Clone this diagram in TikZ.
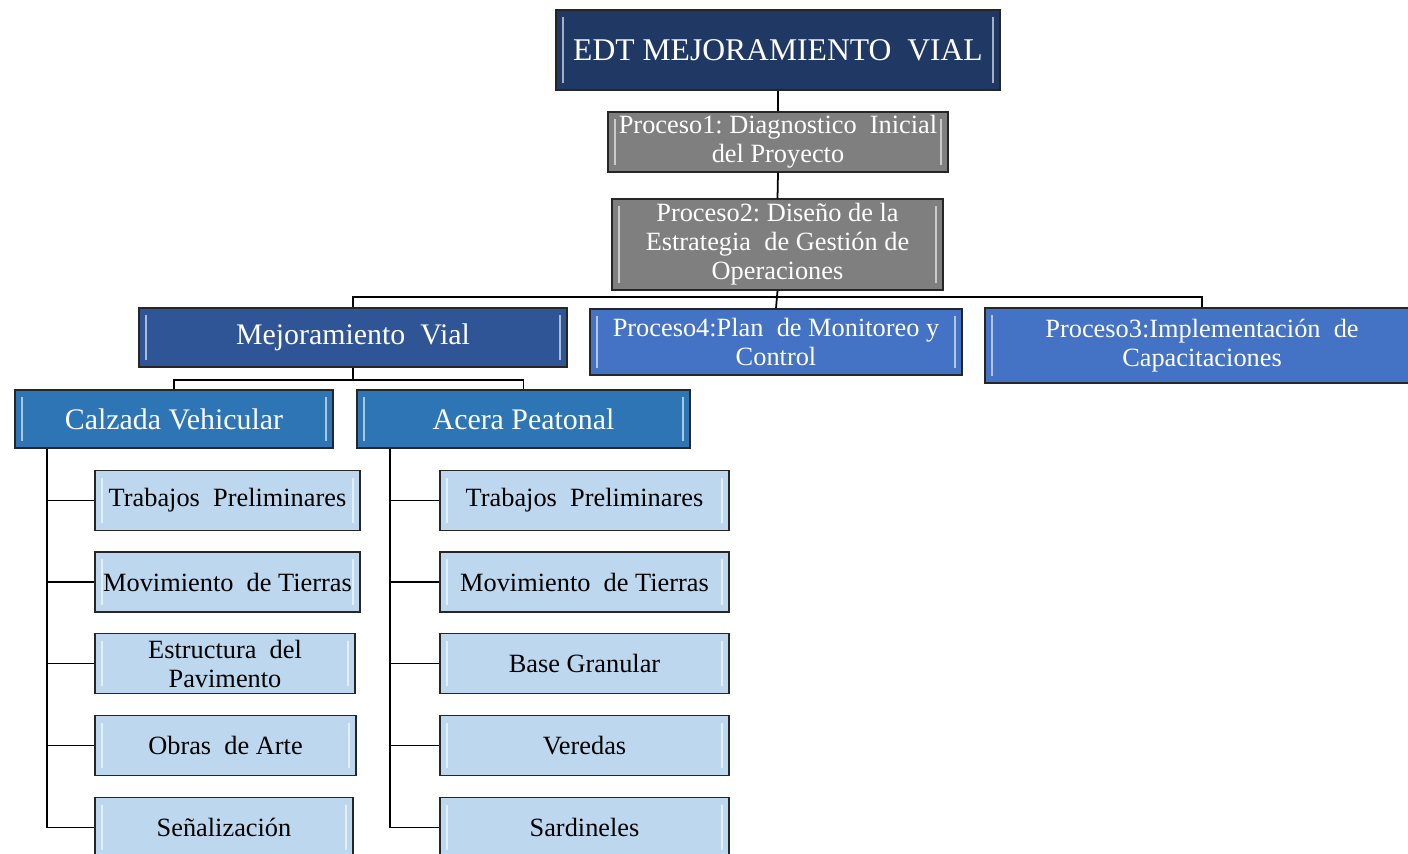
\documentclass[tikz,border=0pt]{standalone}
\usepackage{fontspec}
\setmainfont{Liberation Serif}
\usetikzlibrary{positioning}
\definecolor{NavyTop}{HTML}{1F3864}
\definecolor{GrayProc}{HTML}{7F7F7F}
\definecolor{MidBlue}{HTML}{2F5597}
\definecolor{ProcBlue}{HTML}{4472C4}
\definecolor{SubBlue}{HTML}{2E75B6}
\definecolor{LeafBlue}{HTML}{BDD7EE}
\tikzset{
  bevel/.style={path picture={
    \draw[white,opacity=0.6,line width=1.3pt]
      ([shift={(4pt,4pt)}]path picture bounding box.south west) -- ([shift={(4pt,-4pt)}]path picture bounding box.north west)
      ([shift={(-4pt,4pt)}]path picture bounding box.south east) -- ([shift={(-4pt,-4pt)}]path picture bounding box.north east);}},
  basebox/.style={draw=black!85,line width=0.8pt,align=center,inner sep=1pt,bevel},
  topnode/.style={basebox,fill=NavyTop,text=white,font=\fontsize{18}{20}\selectfont},
  procnode/.style={basebox,fill=GrayProc,text=white,font=\fontsize{15}{16.5}\selectfont},
  mainnode/.style={basebox,fill=MidBlue,text=white,font=\fontsize{17}{19}\selectfont},
  pblnode/.style={basebox,fill=ProcBlue,text=white,font=\fontsize{15}{16.5}\selectfont},
  subnode/.style={basebox,fill=SubBlue,text=white,font=\fontsize{17}{19}\selectfont},
  leafnode/.style={basebox,fill=LeafBlue,text=black,font=\fontsize{15}{16.5}\selectfont},
  link/.style={line width=1pt,draw=black},
}

\begin{document}
\begin{tikzpicture}[x=0.02cm,y=-0.02cm]
  \clip (0,0) rectangle (1408,854);
  % upper levels
  \node[topnode,minimum width=8.88cm,minimum height=1.6cm] (edt) at (778,50) {EDT MEJORAMIENTO\ \ VIAL};
  \node[procnode,minimum width=6.8cm,minimum height=1.2cm] (p1) at (778,142) {Proceso1:\ Diagnostico\ \ Inicial\\del Proyecto};
  \node[procnode,minimum width=6.62cm,minimum height=1.82cm] (p2) at (777.5,244.5) {Proceso2:\ Diseño de la\\Estrategia\ \ de Gestión de\\Operaciones};
  \node[mainnode,minimum width=8.56cm,minimum height=1.18cm] (mv) at (353,337.5) {Mejoramiento\ \ Vial};
  \node[pblnode,minimum width=7.44cm,minimum height=1.32cm] (p4) at (776,342) {Proceso4:Plan\ \ de Monitoreo\ y\\Control};
  \node[pblnode,minimum width=8.68cm,minimum height=1.5cm] (p3) at (1202,345.5) {Proceso3:Implementación\ \ de\\Capacitaciones};
  \node[subnode,minimum width=6.36cm,minimum height=1.16cm] (calz) at (174,419) {Calzada Vehicular};
  \node[subnode,minimum width=6.66cm,minimum height=1.16cm] (acera) at (523.5,419) {Acera Peatonal};
  % leaves
  \node[leafnode,minimum width=5.3cm,minimum height=1.19cm] (l1) at (227.5,500.5) {Trabajos\ \ Preliminares};
  \node[leafnode,minimum width=5.3cm,minimum height=1.2cm] (l2) at (227.5,582) {Movimiento\ \ de Tierras};
  \node[leafnode,minimum width=5.2cm,minimum height=1.19cm] (l3) at (225,663.5) {Estructura\ \ del\\Pavimento};
  \node[leafnode,minimum width=5.22cm,minimum height=1.19cm] (l4) at (225.5,745.5) {Obras\ \ de Arte};
  \node[leafnode,minimum width=5.16cm,minimum height=1.19cm] (l5) at (224,827.5) {Señalización};
  \node[leafnode,minimum width=5.78cm,minimum height=1.19cm] (r1) at (584.5,500.5) {Trabajos\ \ Preliminares};
  \node[leafnode,minimum width=5.78cm,minimum height=1.2cm] (r2) at (584.5,582) {Movimiento\ \ de Tierras};
  \node[leafnode,minimum width=5.78cm,minimum height=1.19cm] (r3) at (584.5,663.5) {Base Granular};
  \node[leafnode,minimum width=5.78cm,minimum height=1.19cm] (r4) at (584.5,745.5) {Veredas};
  \node[leafnode,minimum width=5.78cm,minimum height=1.19cm] (r5) at (584.5,827.5) {Sardineles};
  % connectors
  \draw[link] (edt.south) -- (p1.north);
  \draw[link] (p1.south) -- (p2.north);
  \draw[link] (p2.south) -- (p4.north);
  \coordinate (bus) at (777,297);
  \draw[link] (mv.north) |- (bus) -| (p3.north);
  \draw[link] (mv.south) -- ++(0,12) coordinate (mvbus);
  \draw[link] (calz.north) |- (mvbus) -| (acera.north);
  \coordinate (trunkL) at ([xshift=0.66cm]calz.south west);
  \coordinate (trunkR) at ([xshift=0.68cm]acera.south west);
  \draw[link] (trunkL) |- (l5.west);
  \draw[link] (trunkR) |- (r5.west);
  \foreach \i in {1,...,4} {
    \draw[link] (l\i.west) -- (l\i.west -| trunkL);
    \draw[link] (r\i.west) -- (r\i.west -| trunkR);
  }
\end{tikzpicture}
\end{document}
